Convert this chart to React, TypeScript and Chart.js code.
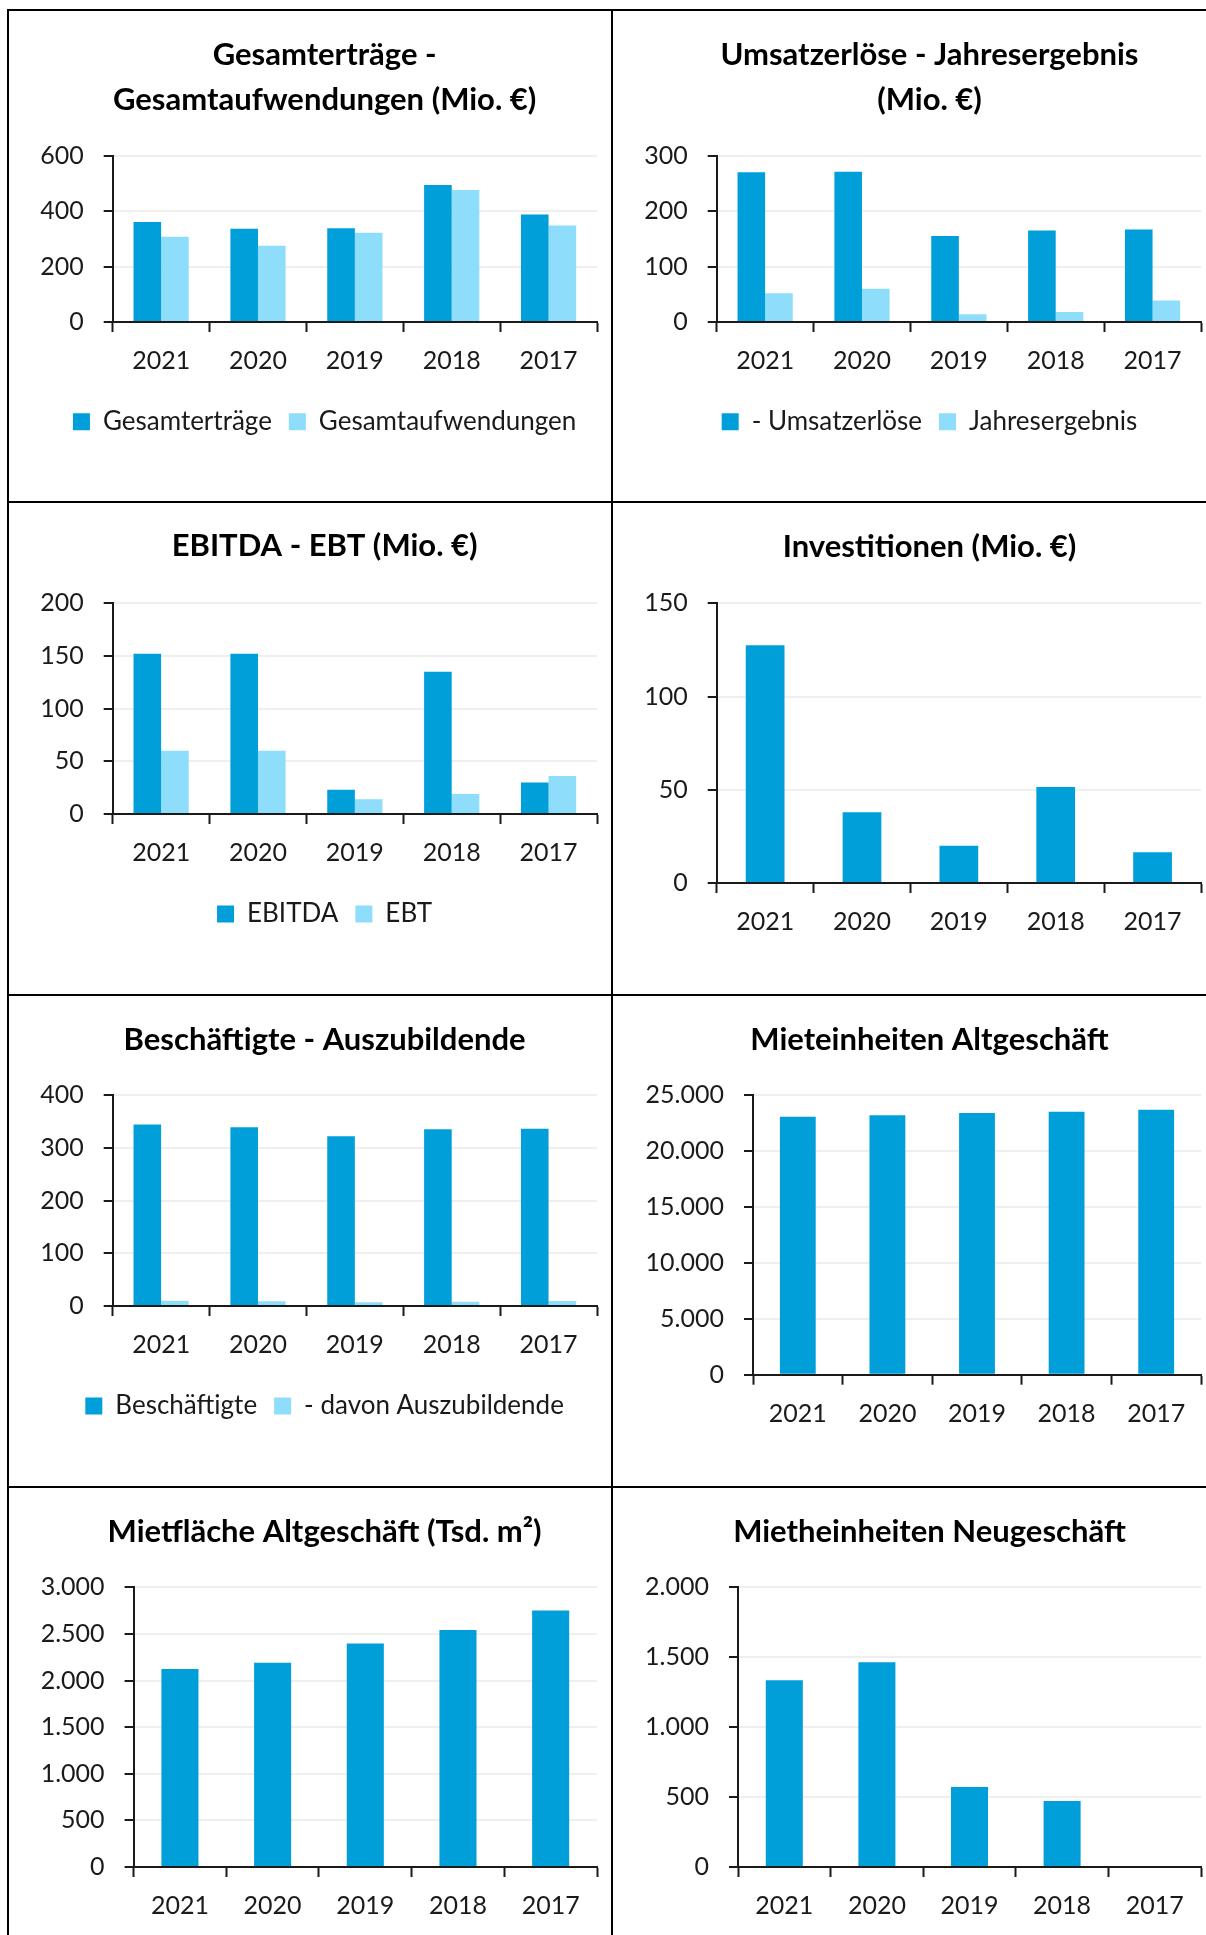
import React, { useEffect, useRef } from "react";
import { Chart, registerables } from "chart.js";

Chart.register(...registerables);

// ---------------- data ----------------
const YEARS = ["2021", "2020", "2019", "2018", "2017"];

const gesamtertraege = [361, 336, 338, 494, 388];
const gesamtaufwendungen = [308, 275, 322, 476, 348];

const umsatzerloese = [270, 271, 155, 165, 167];
const jahresergebnis = [52, 60, 14, 18, 39];

const ebitda = [152, 152, 23, 135, 30];
const ebt = [60, 60, 14, 19, 36];

const investitionen = [127.5, 38, 20, 51.5, 16.5];

const beschaeftigte = [344, 339, 322, 335, 336];
const auszubildende = [10, 9, 7, 8, 9.5];

const mieteinheitenAlt = [23060, 23180, 23390, 23510, 23690];
const mietflaecheAlt = [2124, 2192, 2396, 2542, 2750];
const mieteinheitenNeu: (number | null)[] = [1335, 1464, 572, 472, null];

const DARK = "#009FDA";
const LIGHT = "#8EDDFB";
const INK = "#1a1a1a";

const fmt = (v: any) =>
  String(v).replace(/\B(?=(\d{3})+(?!\d))/g, ".");

type Series = { label: string; data: (number | null)[]; color: string };
type Panel = {
  title: string[];
  series: Series[];
  yMax: number;
  yStep: number;
  legend: boolean;
  box: { x: number; y: number; w: number; h: number };
  pad: { l: number; r: number; t: number; b: number };
  titlePadBottom: number;
  yW: number;
  xH: number;
  catPct: number;
};

const PANELS: Panel[] = [
  {
    title: ["Gesamterträge -", "Gesamtaufwendungen (Mio. €)"],
    series: [
      { label: "Gesamterträge", data: gesamtertraege, color: DARK },
      { label: "Gesamtaufwendungen", data: gesamtaufwendungen, color: LIGHT },
    ],
    yMax: 600, yStep: 200, legend: true,
    box: { x: 10, y: 12, w: 601, h: 489 },
    pad: { l: 42.2, r: 14, t: 20.5, b: 56.3 },
    titlePadBottom: 33.2, yW: 60.5, xH: 69.7, catPct: 0.57,
  },
  {
    title: ["Umsatzerlöse - Jahresergebnis", "(Mio. €)"],
    series: [
      { label: "- Umsatzerlöse", data: umsatzerloese, color: DARK },
      { label: "Jahresergebnis", data: jahresergebnis, color: LIGHT },
    ],
    yMax: 300, yStep: 100, legend: true,
    box: { x: 614, y: 12, w: 592, h: 489 },
    pad: { l: 44, r: 5, t: 20.5, b: 56.3 },
    titlePadBottom: 33.2, yW: 58.7, xH: 69.7, catPct: 0.57,
  },
  {
    title: ["EBITDA - EBT (Mio. €)"],
    series: [
      { label: "EBITDA", data: ebitda, color: DARK },
      { label: "EBT", data: ebt, color: LIGHT },
    ],
    yMax: 200, yStep: 50, legend: true,
    box: { x: 10, y: 504, w: 601, h: 490 },
    pad: { l: 42.2, r: 14, t: 19.5, b: 57 },
    titlePadBottom: 34.8, yW: 60.5, xH: 70, catPct: 0.57,
  },
  {
    title: ["Investitionen (Mio. €)"],
    series: [{ label: "Investitionen", data: investitionen, color: DARK }],
    yMax: 150, yStep: 50, legend: false,
    box: { x: 614, y: 504, w: 592, h: 490 },
    pad: { l: 44, r: 5, t: 20.2, b: 56 },
    titlePadBottom: 34.1, yW: 58.7, xH: 55, catPct: 0.4,
  },
  {
    title: ["Beschäftigte - Auszubildende"],
    series: [
      { label: "Beschäftigte", data: beschaeftigte, color: DARK },
      { label: "- davon Auszubildende", data: auszubildende, color: LIGHT },
    ],
    yMax: 400, yStep: 100, legend: true,
    box: { x: 10, y: 997, w: 601, h: 489 },
    pad: { l: 42.2, r: 14, t: 20.5, b: 57 },
    titlePadBottom: 32.5, yW: 60.5, xH: 70, catPct: 0.57,
  },
  {
    title: ["Mieteinheiten Altgeschäft"],
    series: [{ label: "Mieteinheiten Altgeschäft", data: mieteinheitenAlt, color: DARK }],
    yMax: 25000, yStep: 5000, legend: false,
    box: { x: 614, y: 997, w: 592, h: 489 },
    pad: { l: 44, r: 5, t: 20.5, b: 56.3 },
    titlePadBottom: 32.5, yW: 95, xH: 55, catPct: 0.4,
  },
  {
    title: ["Mietfläche Altgeschäft (Tsd. m²)"],
    series: [{ label: "Mietfläche Altgeschäft", data: mietflaecheAlt, color: DARK }],
    yMax: 3000, yStep: 500, legend: false,
    box: { x: 10, y: 1489, w: 601, h: 446 },
    pad: { l: 42.2, r: 14, t: 20.2, b: 13 },
    titlePadBottom: 33.1, yW: 81.4, xH: 55, catPct: 0.4,
  },
  {
    title: ["Mietheinheiten Neugeschäft"],
    series: [{ label: "Mietheinheiten Neugeschäft", data: mieteinheitenNeu, color: DARK }],
    yMax: 2000, yStep: 500, legend: false,
    box: { x: 614, y: 1489, w: 592, h: 446 },
    pad: { l: 44, r: 5, t: 20.2, b: 13 },
    titlePadBottom: 33.1, yW: 80, xH: 55, catPct: 0.4,
  },
];

function BarPanel({ p }: { p: Panel }) {
  const ref = useRef<HTMLCanvasElement | null>(null);
  useEffect(() => {
    if (!ref.current) return;
    const chart = new Chart(ref.current, {
      type: "bar",
      data: {
        labels: YEARS,
        datasets: p.series.map((s) => ({
          label: s.label,
          data: s.data as any,
          backgroundColor: s.color,
          borderWidth: 0,
          categoryPercentage: p.catPct,
          barPercentage: 1,
        })),
      },
      options: {
        responsive: false,
        animation: false,
        devicePixelRatio: 1,
        layout: { padding: { left: p.pad.l, right: p.pad.r, top: p.pad.t, bottom: p.pad.b } },
        plugins: {
          title: {
            display: true,
            text: p.title,
            color: "#000",
            font: { family: "Lato", weight: "bold", size: 31, lineHeight: "45px" } as any,
            padding: { top: 0, bottom: p.titlePadBottom },
          },
          legend: {
            display: p.legend,
            position: "bottom",
            labels: {
              boxWidth: 17,
              boxHeight: 17,
              padding: 17,
              color: INK,
              font: { family: "Lato", size: 26 },
            },
          },
          tooltip: { enabled: false },
        },
        scales: {
          x: {
            grid: {
              display: true,
              drawOnChartArea: false,
              drawTicks: true,
              tickLength: 10,
              tickColor: INK,
              tickWidth: 2,
              offset: true,
            },
            border: { display: true, color: INK, width: 2 },
            ticks: {
              padding: 14,
              color: INK,
              font: { family: "Lato", size: 25 },
              maxRotation: 0,
              autoSkip: false,
            },
            afterFit: (s: any) => {
              s.height = p.xH;
            },
          },
          y: {
            min: 0,
            max: p.yMax,
            ticks: {
              stepSize: p.yStep,
              padding: 20,
              color: INK,
              font: { family: "Lato", size: 25 },
              callback: (v: any) => fmt(v),
            },
            grid: {
              color: "#EFEFEF",
              lineWidth: 2,
              tickColor: INK,
              tickLength: 9,
              tickWidth: 2,
            },
            border: { display: true, color: INK, width: 2 },
            afterFit: (s: any) => {
              s.width = p.yW;
              // let tick labels extend past the (narrow) axis box without clipping
              s._computeLabelArea = () => undefined;
            },
          },
        },
      } as any,
    });
    return () => chart.destroy();
  }, [p]);
  return (
    <canvas
      ref={ref}
      width={p.box.w}
      height={p.box.h}
      style={{
        position: "absolute",
        left: p.box.x,
        top: p.box.y,
        width: p.box.w,
        height: p.box.h,
      }}
    />
  );
}

const line = (left: number, top: number, width: number, height: number) => (
  <div
    style={{ position: "absolute", left, top, width, height, background: "#000" }}
  />
);

export default function App() {
  return (
    <div
      style={{
        position: "absolute",
        left: 0,
        top: 0,
        width: 1206,
        height: 1935,
        background: "#fff",
        overflow: "hidden",
      }}
    >
      {PANELS.map((p, i) => (
        <BarPanel key={i} p={p} />
      ))}
      {line(7, 9, 1199, 2)}
      {line(7, 9, 2, 1926)}
      {line(611, 9, 2, 1926)}
      {line(7, 501, 1199, 2)}
      {line(7, 994, 1199, 2)}
      {line(7, 1486, 1199, 2)}
    </div>
  );
}
